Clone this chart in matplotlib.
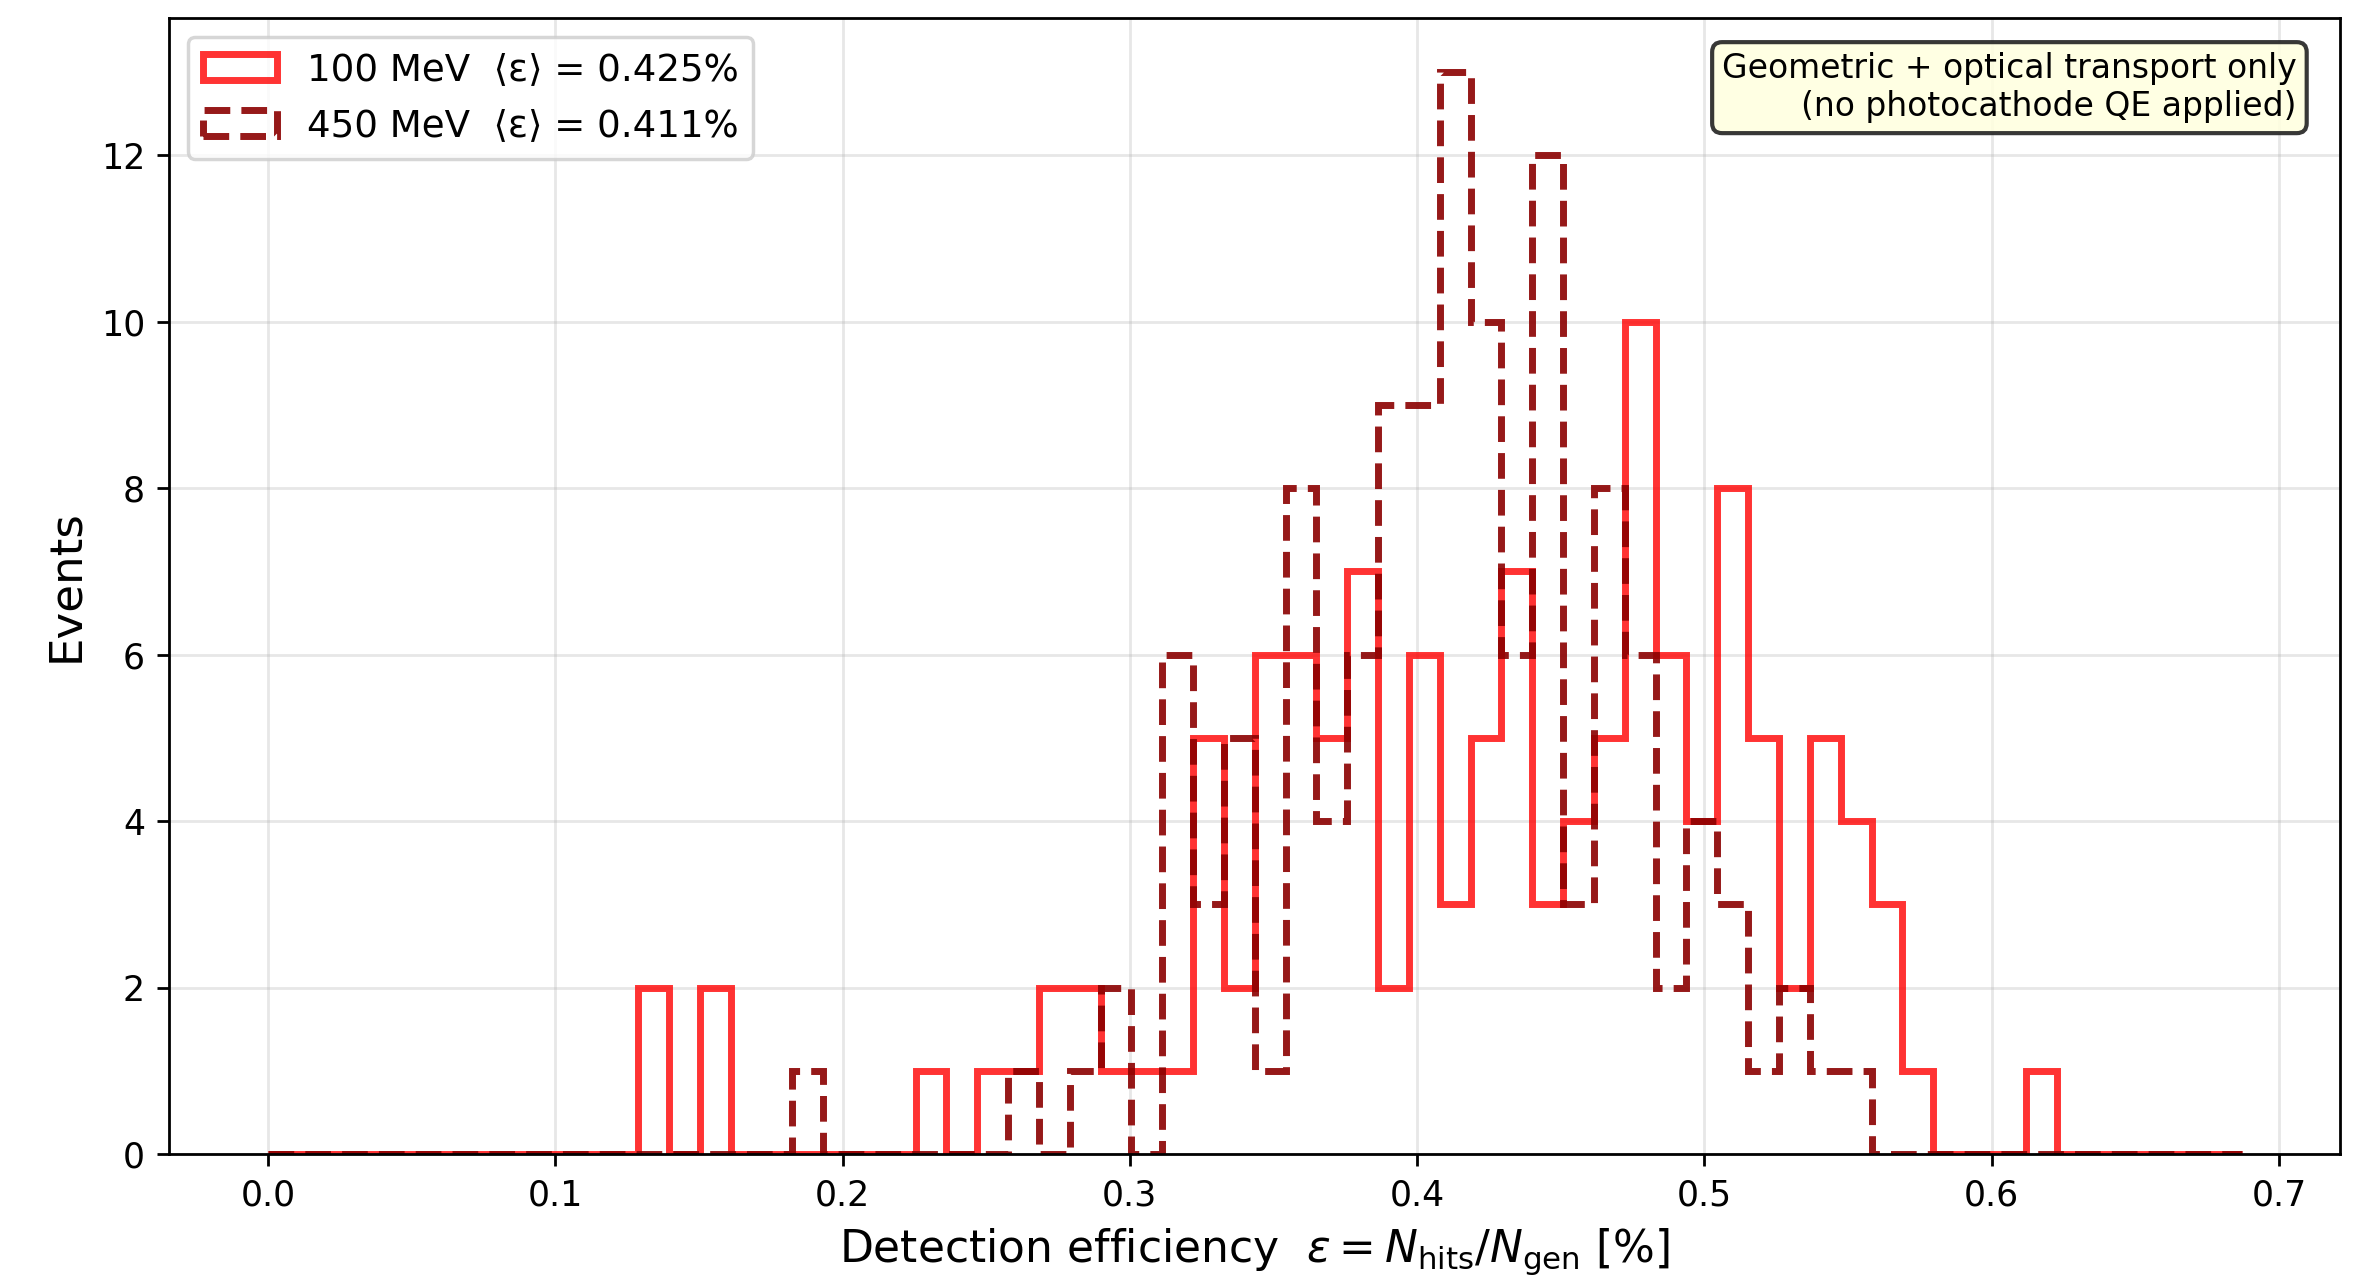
import numpy as np
import matplotlib.pyplot as plt

# detection efficiency in %, 64 bins between these limits
eff_min = 0.0
eff_max = 0.687
n_bins = 64

energies = ["100 MeV", "450 MeV"]
mean_eff = [0.425, 0.411]

# events per bin
counts_100 = [
    0, 0, 0, 0, 0, 0, 0, 0, 0, 0,
    0, 0, 2, 0, 2, 0, 0, 0, 0, 0,
    0, 1, 0, 1, 1, 2, 2, 1, 1, 1,
    5, 2, 6, 6, 5, 7, 2, 6, 3, 5,
    7, 3, 4, 5, 10, 6, 4, 8, 5, 2,
    5, 4, 3, 1, 0, 0, 0, 1, 0, 0,
    0, 0, 0, 0,
]
counts_450 = [
    0, 0, 0, 0, 0, 0, 0, 0, 0, 0,
    0, 0, 0, 0, 0, 0, 0, 1, 0, 0,
    0, 0, 0, 0, 1, 0, 1, 2, 0, 6,
    3, 5, 1, 8, 4, 6, 9, 9, 13, 10,
    6, 12, 3, 8, 6, 2, 4, 3, 1, 2,
    1, 1, 0, 0, 0, 0, 0, 0, 0, 0,
    0, 0, 0, 0,
]

edges = np.linspace(eff_min, eff_max, n_bins + 1)
centers = 0.5 * (edges[:-1] + edges[1:])

#=============================#

fig = plt.figure(figsize=(2372 / 250, 1283 / 250), dpi=250)
ax = fig.add_axes([0.0714, 0.1005, 0.9152, 0.8855])

ax.hist(centers, bins=edges, weights=counts_100, histtype='step',
        color='red', alpha=0.8, lw=2.0,
        label=f"{energies[0]}  ⟨ε⟩ = {mean_eff[0]:.3f}%")
ax.hist(centers, bins=edges, weights=counts_450, histtype='step',
        color='darkred', alpha=0.9, lw=2.0, ls='--',
        label=f"{energies[1]}  ⟨ε⟩ = {mean_eff[1]:.3f}%")

ax.set_xlabel(r"Detection efficiency  $\varepsilon = N_{\rm hits}/N_{\rm gen}$ [%]", fontsize=12.7)
ax.set_ylabel("Events", fontsize=13)
ax.tick_params(labelsize=10)
ax.grid(True, alpha=0.3)
ax.legend(loc='upper left', fontsize=10.7)

ax.text(0.98, 0.97, "Geometric + optical transport only\n(no photocathode QE applied)",
        transform=ax.transAxes, ha='right', va='top', fontsize=9.5,
        bbox=dict(boxstyle='round', facecolor='lightyellow', edgecolor='#222222',
                  alpha=0.9, lw=1.2))

fig.savefig("out.png", dpi=250)
